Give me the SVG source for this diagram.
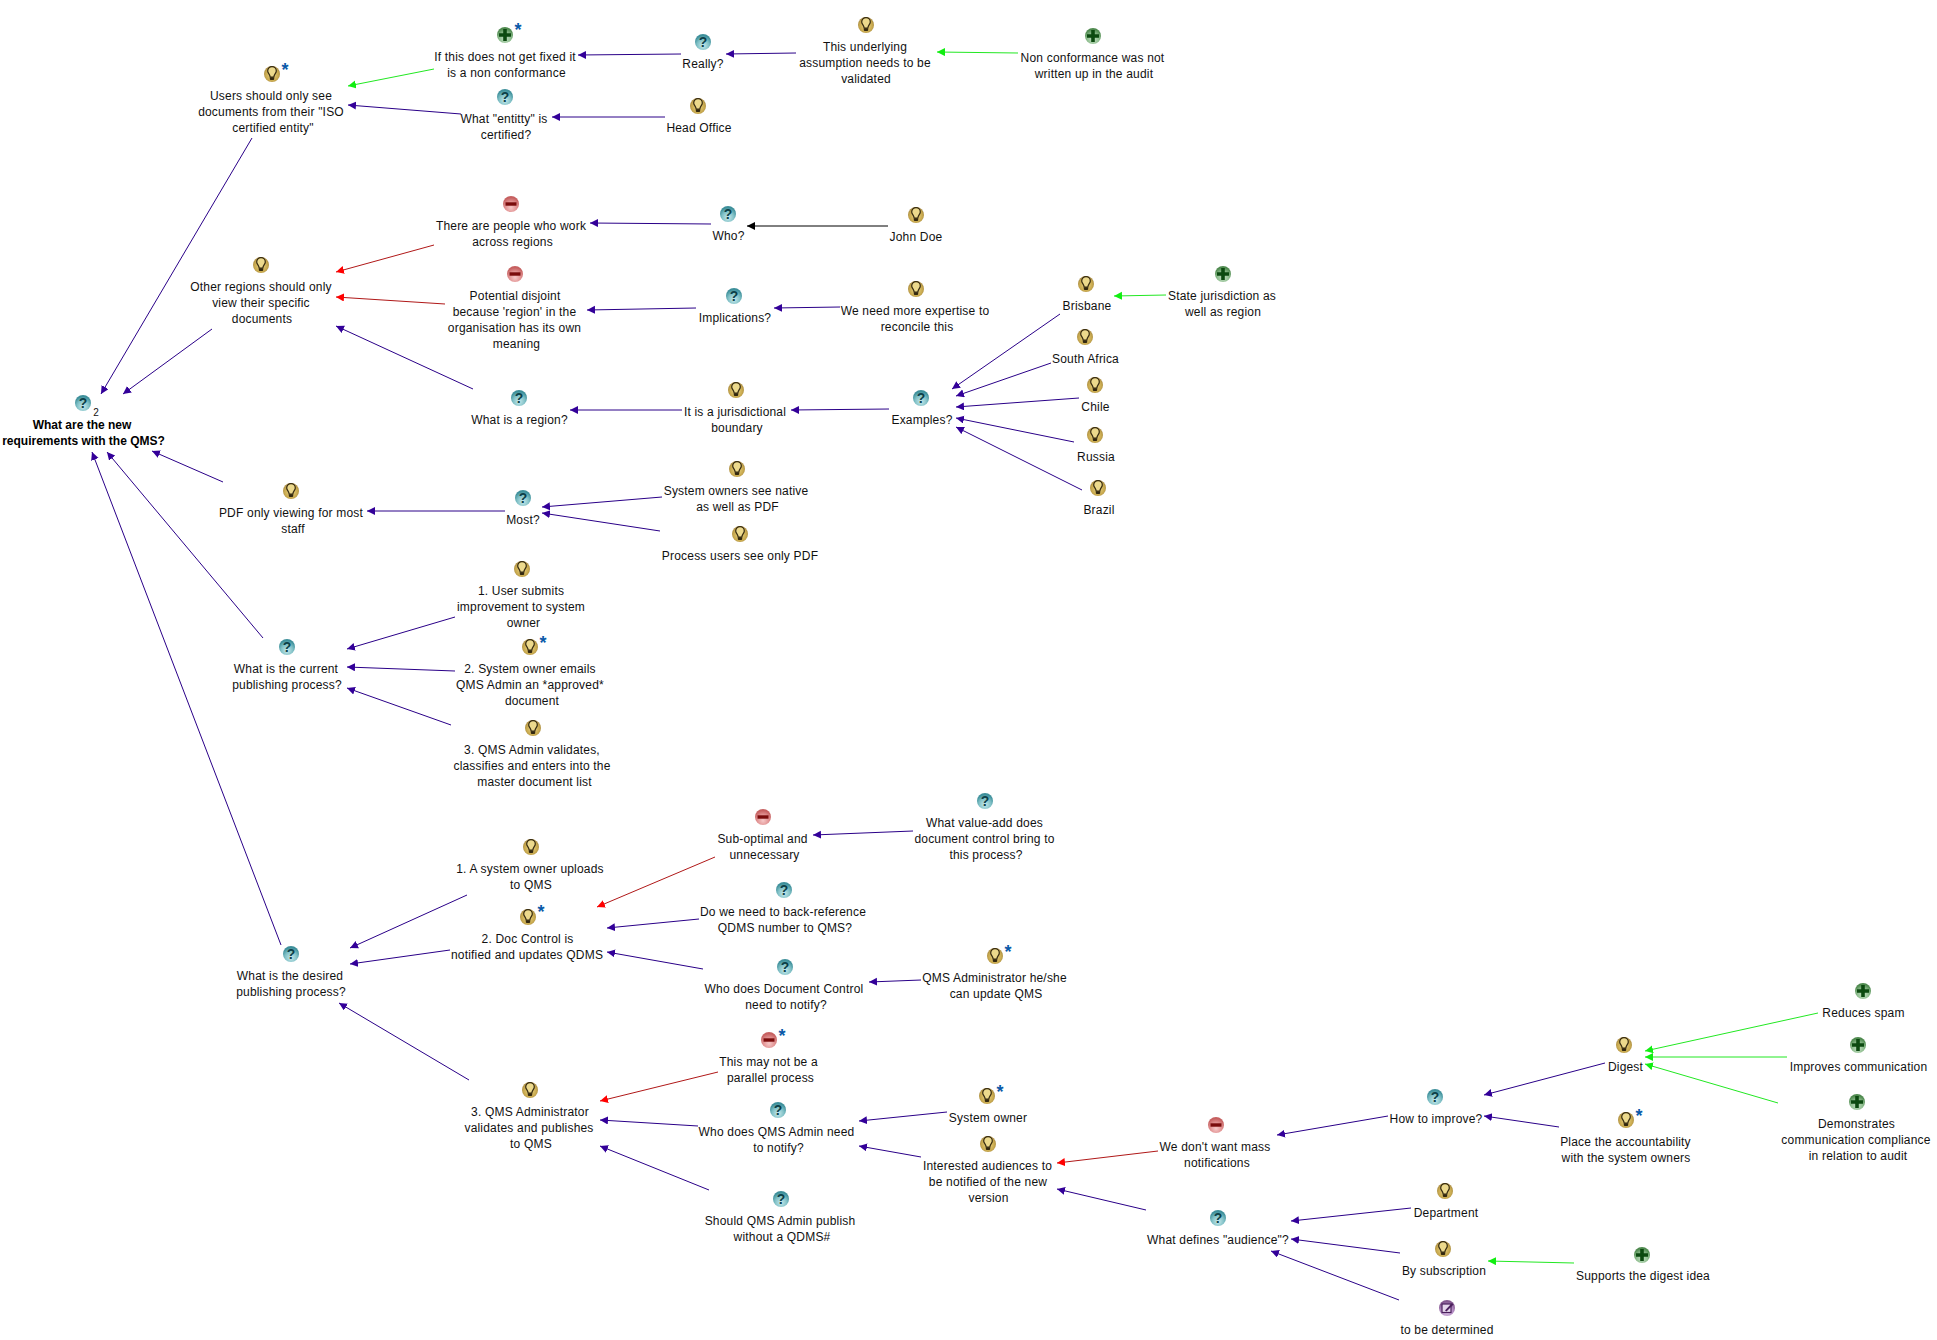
<svg xmlns="http://www.w3.org/2000/svg" width="1937" height="1340" viewBox="0 0 1937 1340">
<style>
text{font-family:"Liberation Sans",Arial,sans-serif;font-size:12px;letter-spacing:.19px;fill:#111;text-anchor:middle}
.b{font-weight:700;letter-spacing:0;fill:#000}
.s{fill:#0a5aa8;font-size:18px;font-weight:700;letter-spacing:0}
.n{font-size:10px;letter-spacing:0}
.g{font-size:14px;font-weight:700;letter-spacing:0;fill:#0c3f48}
#connectors line{stroke-width:1;fill:none}
.in{stroke:#2a0088}.co{stroke:#b01818}.pr{stroke:#22e822}.bk{stroke:#000}
</style>
<defs>
<radialGradient id="gi" cx=".5" cy=".55" r=".55"><stop offset="0" stop-color="#ecd888"/><stop offset=".7" stop-color="#caab50"/><stop offset="1" stop-color="#a88a42"/></radialGradient>
<radialGradient id="gq" cx=".5" cy=".72" r=".62"><stop offset="0" stop-color="#c8eaec"/><stop offset=".6" stop-color="#7fc0c6"/><stop offset="1" stop-color="#3d8f9a"/></radialGradient>
<radialGradient id="gm" cx=".5" cy=".72" r=".62"><stop offset="0" stop-color="#f6c8c8"/><stop offset=".6" stop-color="#e09090"/><stop offset="1" stop-color="#c66060"/></radialGradient>
<radialGradient id="gp" cx=".5" cy=".72" r=".62"><stop offset="0" stop-color="#c4e0c4"/><stop offset=".6" stop-color="#8cbc8c"/><stop offset="1" stop-color="#4f8a4f"/></radialGradient>
<radialGradient id="gn" cx=".5" cy=".72" r=".62"><stop offset="0" stop-color="#dcc4e4"/><stop offset=".6" stop-color="#b48cc4"/><stop offset="1" stop-color="#84588f"/></radialGradient>
<g id="idea"><circle r="8" fill="url(#gi)"/><path d="M-1.8 3.2C-2-.2-4.3-.6-4.3-3.1A4.3 4.3 0 0 1 4.3-3.1C4.3-.6 2-.2 1.8 3.2Z" fill="#ecd98c" stroke="#33280f" stroke-width="1.2"/><rect x="-2.2" y="3.2" width="4.4" height="2.8" rx="1" fill="#33280f"/></g>
<g id="ques"><circle r="8" fill="url(#gq)"/><text class="g" x="0" y="5">?</text></g>
<g id="minus"><circle r="8" fill="url(#gm)"/><rect x="-5.5" y="-1.7" width="11" height="3.4" fill="#7a0c0c"/></g>
<g id="plus"><circle r="8" fill="url(#gp)"/><path d="M-1.8-6H1.8V-1.8H6V1.8H1.8V6H-1.8V1.8H-6V-1.8H-1.8Z" fill="#0c4a10"/></g>
<g id="note"><circle r="8" fill="url(#gn)"/><rect x="-5" y="-4" width="9" height="8.5" fill="#e6d6ec" stroke="#4a1f5c" stroke-width="1.2"/><path d="M-2 2.5L5-5L6.5-3.5L-.5 3.5Z" fill="#4a1f5c"/></g>
<marker id="ai" markerUnits="userSpaceOnUse" markerWidth="10" markerHeight="10" refX="8" refY="4" orient="auto"><path d="M8 4L0 0V8Z" fill="#330099"/></marker>
<marker id="ac" markerUnits="userSpaceOnUse" markerWidth="10" markerHeight="10" refX="8" refY="4" orient="auto"><path d="M8 4L0 0V8Z" fill="#f00"/></marker>
<marker id="ap" markerUnits="userSpaceOnUse" markerWidth="10" markerHeight="10" refX="8" refY="4" orient="auto"><path d="M8 4L0 0V8Z" fill="#1e1"/></marker>
<marker id="ab" markerUnits="userSpaceOnUse" markerWidth="10" markerHeight="10" refX="8" refY="4" orient="auto"><path d="M8 4L0 0V8Z" fill="#000"/></marker>
</defs>
<rect width="1937" height="1340" fill="#fff"/>
<g id="connectors">
<line class="pr" marker-end="url(#ap)" x1="434" y1="69" x2="348" y2="86"/>
<line class="in" marker-end="url(#ai)" x1="461" y1="114" x2="348" y2="105"/>
<line class="in" marker-end="url(#ai)" x1="252" y1="138" x2="101" y2="394"/>
<line class="in" marker-end="url(#ai)" x1="212" y1="329" x2="123" y2="394"/>
<line class="co" marker-end="url(#ac)" x1="434" y1="245" x2="336" y2="272"/>
<line class="co" marker-end="url(#ac)" x1="445" y1="304" x2="336" y2="297"/>
<line class="in" marker-end="url(#ai)" x1="473" y1="389" x2="336" y2="326"/>
<line class="in" marker-end="url(#ai)" x1="223" y1="482" x2="152" y2="451"/>
<line class="in" marker-end="url(#ai)" x1="263" y1="638" x2="107" y2="452"/>
<line class="in" marker-end="url(#ai)" x1="281" y1="945" x2="92" y2="452"/>
<line class="in" marker-end="url(#ai)" x1="681" y1="54" x2="578" y2="55"/>
<line class="in" marker-end="url(#ai)" x1="796" y1="53" x2="726" y2="54"/>
<line class="pr" marker-end="url(#ap)" x1="1018" y1="53" x2="937" y2="52"/>
<line class="in" marker-end="url(#ai)" x1="665" y1="117" x2="552" y2="117"/>
<line class="in" marker-end="url(#ai)" x1="711" y1="224" x2="590" y2="223"/>
<line class="bk" marker-end="url(#ab)" x1="888" y1="226" x2="747" y2="226"/>
<line class="in" marker-end="url(#ai)" x1="696" y1="308" x2="587" y2="310"/>
<line class="in" marker-end="url(#ai)" x1="840" y1="307" x2="774" y2="308"/>
<line class="in" marker-end="url(#ai)" x1="682" y1="410" x2="570" y2="410"/>
<line class="in" marker-end="url(#ai)" x1="889" y1="409" x2="791" y2="410"/>
<line class="in" marker-end="url(#ai)" x1="1060" y1="314" x2="952" y2="389"/>
<line class="in" marker-end="url(#ai)" x1="1051" y1="363" x2="956" y2="396"/>
<line class="in" marker-end="url(#ai)" x1="1079" y1="398" x2="956" y2="407"/>
<line class="in" marker-end="url(#ai)" x1="1074" y1="442" x2="956" y2="418"/>
<line class="in" marker-end="url(#ai)" x1="1082" y1="490" x2="956" y2="427"/>
<line class="pr" marker-end="url(#ap)" x1="1166" y1="295" x2="1114" y2="296"/>
<line class="in" marker-end="url(#ai)" x1="505" y1="511" x2="367" y2="511"/>
<line class="in" marker-end="url(#ai)" x1="662" y1="497" x2="542" y2="507"/>
<line class="in" marker-end="url(#ai)" x1="660" y1="531" x2="542" y2="513"/>
<line class="in" marker-end="url(#ai)" x1="455" y1="617" x2="347" y2="649"/>
<line class="in" marker-end="url(#ai)" x1="455" y1="671" x2="347" y2="667"/>
<line class="in" marker-end="url(#ai)" x1="451" y1="725" x2="347" y2="688"/>
<line class="in" marker-end="url(#ai)" x1="467" y1="895" x2="350" y2="948"/>
<line class="in" marker-end="url(#ai)" x1="450" y1="950" x2="350" y2="964"/>
<line class="in" marker-end="url(#ai)" x1="469" y1="1080" x2="339" y2="1003"/>
<line class="co" marker-end="url(#ac)" x1="715" y1="857" x2="597" y2="907"/>
<line class="in" marker-end="url(#ai)" x1="699" y1="919" x2="607" y2="928"/>
<line class="in" marker-end="url(#ai)" x1="703" y1="969" x2="607" y2="952"/>
<line class="in" marker-end="url(#ai)" x1="913" y1="831" x2="813" y2="835"/>
<line class="in" marker-end="url(#ai)" x1="921" y1="980" x2="869" y2="982"/>
<line class="co" marker-end="url(#ac)" x1="718" y1="1072" x2="600" y2="1101"/>
<line class="in" marker-end="url(#ai)" x1="698" y1="1126" x2="600" y2="1120"/>
<line class="in" marker-end="url(#ai)" x1="709" y1="1190" x2="600" y2="1146"/>
<line class="in" marker-end="url(#ai)" x1="947" y1="1112" x2="859" y2="1121"/>
<line class="in" marker-end="url(#ai)" x1="921" y1="1157" x2="859" y2="1146"/>
<line class="co" marker-end="url(#ac)" x1="1158" y1="1151" x2="1057" y2="1163"/>
<line class="in" marker-end="url(#ai)" x1="1146" y1="1210" x2="1057" y2="1189"/>
<line class="in" marker-end="url(#ai)" x1="1388" y1="1116" x2="1277" y2="1135"/>
<line class="in" marker-end="url(#ai)" x1="1605" y1="1063" x2="1484" y2="1095"/>
<line class="in" marker-end="url(#ai)" x1="1559" y1="1127" x2="1484" y2="1116"/>
<line class="in" marker-end="url(#ai)" x1="1411" y1="1208" x2="1291" y2="1221"/>
<line class="in" marker-end="url(#ai)" x1="1400" y1="1253" x2="1291" y2="1239"/>
<line class="in" marker-end="url(#ai)" x1="1399" y1="1300" x2="1271" y2="1251"/>
<line class="pr" marker-end="url(#ap)" x1="1574" y1="1263" x2="1488" y2="1261"/>
<line class="pr" marker-end="url(#ap)" x1="1818" y1="1013" x2="1645" y2="1051"/>
<line class="pr" marker-end="url(#ap)" x1="1787" y1="1057" x2="1645" y2="1057"/>
<line class="pr" marker-end="url(#ap)" x1="1778" y1="1103" x2="1645" y2="1064"/>
</g>
<g id="n-root"><use href="#ques" x="83" y="403"/><text class="n" x="96" y="416">2</text><text class="b" x="82" y="429">What are the new</text><text class="b" x="83.500" y="445">requirements with the QMS?</text></g>
<g id="n-users"><use href="#idea" x="272" y="74"/><text class="s" x="285" y="76">*</text><text x="271" y="100">Users should only see</text><text x="271" y="116">documents from their "ISO</text><text x="273" y="132">certified entity"</text></g>
<g id="n-other"><use href="#idea" x="261" y="265"/><text x="261" y="291">Other regions should only</text><text x="261" y="307">view their specific</text><text x="262" y="323">documents</text></g>
<g id="n-iffix"><use href="#plus" x="505" y="35"/><text class="s" x="518" y="36">*</text><text x="505" y="61">If this does not get fixed it</text><text x="506.500" y="77">is a non conformance</text></g>
<g id="n-really"><use href="#ques" x="703" y="42"/><text x="703" y="68">Really?</text></g>
<g id="n-underlying"><use href="#idea" x="866" y="25"/><text x="865" y="51">This underlying</text><text x="865" y="67">assumption needs to be</text><text x="866" y="83">validated</text></g>
<g id="n-nonconf"><use href="#plus" x="1093" y="36"/><text x="1092.500" y="62">Non conformance was not</text><text x="1094" y="78">written up in the audit</text></g>
<g id="n-entity"><use href="#ques" x="505" y="97"/><text x="504" y="123">What "entitty" is</text><text x="506" y="139">certified?</text></g>
<g id="n-head"><use href="#idea" x="698" y="106"/><text x="699" y="132">Head Office</text></g>
<g id="n-people"><use href="#minus" x="511" y="204"/><text x="511" y="230">There are people who work</text><text x="512.500" y="246">across regions</text></g>
<g id="n-who"><use href="#ques" x="728" y="214"/><text x="728.500" y="240">Who?</text></g>
<g id="n-john"><use href="#idea" x="916" y="215"/><text x="916" y="241">John Doe</text></g>
<g id="n-disjoint"><use href="#minus" x="515" y="274"/><text x="515" y="300">Potential disjoint</text><text x="514.500" y="316">because 'region' in the</text><text x="514.500" y="332">organisation has its own</text><text x="516.500" y="348">meaning</text></g>
<g id="n-impl"><use href="#ques" x="734" y="296"/><text x="735" y="322">Implications?</text></g>
<g id="n-expertise"><use href="#idea" x="916" y="289"/><text x="915" y="315">We need more expertise to</text><text x="917" y="331">reconcile this</text></g>
<g id="n-region"><use href="#ques" x="519" y="398"/><text x="519.500" y="424">What is a region?</text></g>
<g id="n-juris"><use href="#idea" x="736" y="390"/><text x="735" y="416">It is a jurisdictional</text><text x="737" y="432">boundary</text></g>
<g id="n-examples"><use href="#ques" x="921" y="398"/><text x="922" y="424">Examples?</text></g>
<g id="n-brisbane"><use href="#idea" x="1086" y="284"/><text x="1087" y="310">Brisbane</text></g>
<g id="n-state"><use href="#plus" x="1223" y="274"/><text x="1222" y="300">State jurisdiction as</text><text x="1223" y="316">well as region</text></g>
<g id="n-safrica"><use href="#idea" x="1085" y="337"/><text x="1085.500" y="363">South Africa</text></g>
<g id="n-chile"><use href="#idea" x="1095" y="385"/><text x="1095.500" y="411">Chile</text></g>
<g id="n-russia"><use href="#idea" x="1095" y="435"/><text x="1096" y="461">Russia</text></g>
<g id="n-brazil"><use href="#idea" x="1098" y="488"/><text x="1099" y="514">Brazil</text></g>
<g id="n-pdf"><use href="#idea" x="291" y="491"/><text x="291" y="517">PDF only viewing for most</text><text x="293" y="533">staff</text></g>
<g id="n-most"><use href="#ques" x="523" y="498"/><text x="523" y="524">Most?</text></g>
<g id="n-native"><use href="#idea" x="737" y="469"/><text x="736" y="495">System owners see native</text><text x="737.500" y="511">as well as PDF</text></g>
<g id="n-procusers"><use href="#idea" x="740" y="534"/><text x="740" y="560">Process users see only PDF</text></g>
<g id="n-current"><use href="#ques" x="287" y="647"/><text x="286" y="673">What is the current</text><text x="287" y="689">publishing process?</text></g>
<g id="n-c1"><use href="#idea" x="522" y="569"/><text x="521" y="595">1. User submits</text><text x="521" y="611">improvement to system</text><text x="523.500" y="627">owner</text></g>
<g id="n-c2"><use href="#idea" x="530" y="647"/><text class="s" x="543" y="649">*</text><text x="530" y="673">2. System owner emails</text><text x="530" y="689">QMS Admin an *approved*</text><text x="532" y="705">document</text></g>
<g id="n-c3"><use href="#idea" x="533" y="728"/><text x="532" y="754">3. QMS Admin validates,</text><text x="532" y="770">classifies and enters into the</text><text x="534.500" y="786">master document list</text></g>
<g id="n-desired"><use href="#ques" x="291" y="954"/><text x="290" y="980">What is the desired</text><text x="291" y="996">publishing process?</text></g>
<g id="n-d1"><use href="#idea" x="531" y="847"/><text x="530" y="873">1. A system owner uploads</text><text x="531" y="889">to QMS</text></g>
<g id="n-d2"><use href="#idea" x="528" y="917"/><text class="s" x="541" y="918">*</text><text x="527.500" y="943">2. Doc Control is</text><text x="527" y="959">notified and updates QDMS</text></g>
<g id="n-d3"><use href="#idea" x="530" y="1090"/><text x="530" y="1116">3. QMS Administrator</text><text x="529" y="1132">validates and publishes</text><text x="531" y="1148">to QMS</text></g>
<g id="n-subopt"><use href="#minus" x="763" y="817"/><text x="762.500" y="843">Sub-optimal and</text><text x="764.500" y="859">unnecessary</text></g>
<g id="n-valueadd"><use href="#ques" x="985" y="801"/><text x="984.500" y="827">What value-add does</text><text x="984.500" y="843">document control bring to</text><text x="986" y="859">this process?</text></g>
<g id="n-backref"><use href="#ques" x="784" y="890"/><text x="783" y="916">Do we need to back-reference</text><text x="785" y="932">QDMS number to QMS?</text></g>
<g id="n-whodoc"><use href="#ques" x="785" y="967"/><text x="784" y="993">Who does Document Control</text><text x="786" y="1009">need to notify?</text></g>
<g id="n-qmsadmin"><use href="#idea" x="995" y="956"/><text class="s" x="1008" y="958">*</text><text x="994.500" y="982">QMS Administrator he/she</text><text x="996" y="998">can update QMS</text></g>
<g id="n-parallel"><use href="#minus" x="769" y="1040"/><text class="s" x="782" y="1042">*</text><text x="768.500" y="1066">This may not be a</text><text x="770.500" y="1082">parallel process</text></g>
<g id="n-whoqms"><use href="#ques" x="778" y="1110"/><text x="776.500" y="1136">Who does QMS Admin need</text><text x="778.500" y="1152">to notify?</text></g>
<g id="n-without"><use href="#ques" x="781" y="1199"/><text x="780" y="1225">Should QMS Admin publish</text><text x="782" y="1241">without a QDMS#</text></g>
<g id="n-sysowner"><use href="#idea" x="987" y="1096"/><text class="s" x="1000" y="1098">*</text><text x="988" y="1122">System owner</text></g>
<g id="n-interested"><use href="#idea" x="988" y="1144"/><text x="987.500" y="1170">Interested audiences to</text><text x="988" y="1186">be notified of the new</text><text x="988.500" y="1202">version</text></g>
<g id="n-mass"><use href="#minus" x="1216" y="1125"/><text x="1215" y="1151">We don't want mass</text><text x="1217" y="1167">notifications</text></g>
<g id="n-howimprove"><use href="#ques" x="1435" y="1097"/><text x="1436" y="1123">How to improve?</text></g>
<g id="n-audience"><use href="#ques" x="1218" y="1218"/><text x="1218" y="1244">What defines "audience"?</text></g>
<g id="n-department"><use href="#idea" x="1445" y="1191"/><text x="1446" y="1217">Department</text></g>
<g id="n-subscription"><use href="#idea" x="1443" y="1249"/><text x="1444" y="1275">By subscription</text></g>
<g id="n-tbd"><use href="#note" x="1447" y="1308"/><text x="1447" y="1334">to be determined</text></g>
<g id="n-supports"><use href="#plus" x="1642" y="1255"/><text x="1643" y="1280">Supports the digest idea</text></g>
<g id="n-digest"><use href="#idea" x="1624" y="1045"/><text x="1625.500" y="1071">Digest</text></g>
<g id="n-place"><use href="#idea" x="1626" y="1120"/><text class="s" x="1639" y="1122">*</text><text x="1625.500" y="1146">Place the accountability</text><text x="1626" y="1162">with the system owners</text></g>
<g id="n-spam"><use href="#plus" x="1863" y="991"/><text x="1863.500" y="1017">Reduces spam</text></g>
<g id="n-improves"><use href="#plus" x="1858" y="1045"/><text x="1858.500" y="1071">Improves communication</text></g>
<g id="n-demo"><use href="#plus" x="1857" y="1102"/><text x="1856.500" y="1128">Demonstrates</text><text x="1856" y="1144">communication compliance</text><text x="1858" y="1160">in relation to audit</text></g>
</svg>
